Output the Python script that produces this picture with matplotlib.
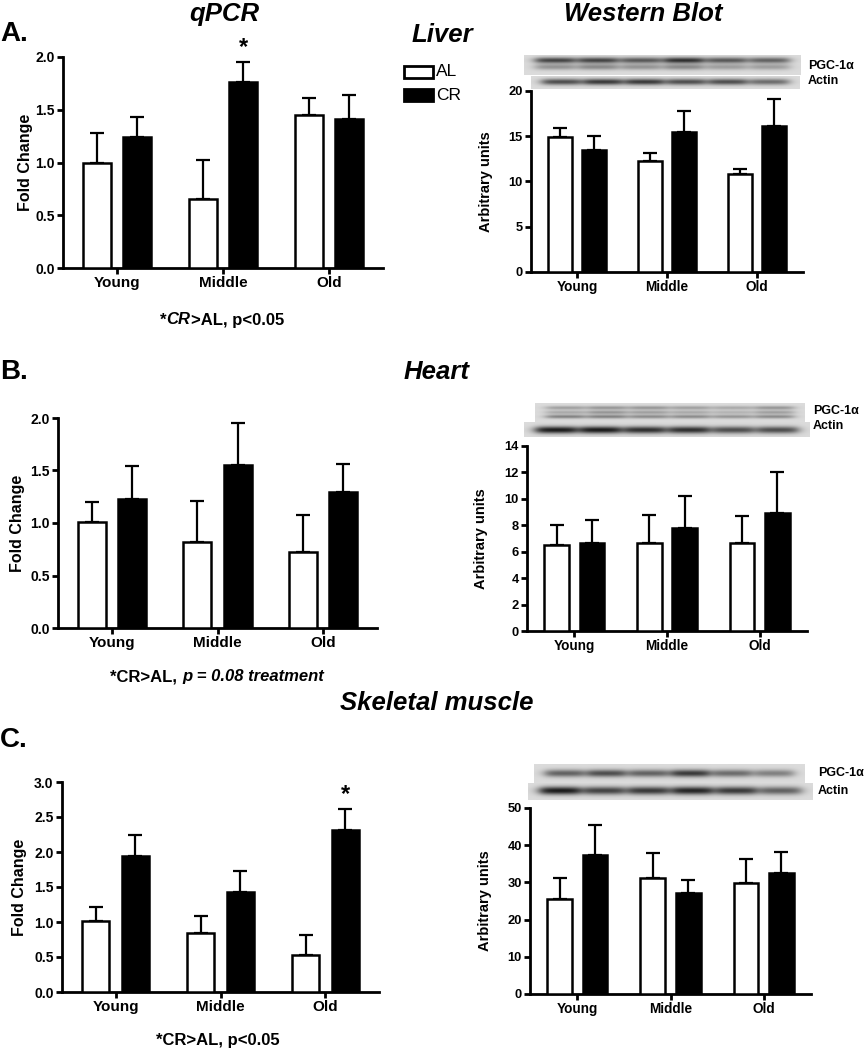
"""
PGC-1α 表达：qPCR 与 Western Blot（肝脏 / 心脏 / 骨骼肌），AL vs CR
"""

import numpy as np
import matplotlib
matplotlib.use('Agg')
import matplotlib.pyplot as plt
from matplotlib.patches import Rectangle

W, H = 867, 1050
plt.rcParams['font.family'] = ['Liberation Sans', 'DejaVu Sans']
plt.rcParams['font.weight'] = 'bold'
plt.rcParams['axes.labelweight'] = 'bold'

# ============================================================
# 数据（均值与 SEM）
# ============================================================

groups = ['Young', 'Middle', 'Old']

liver_qpcr_al      = [1.00, 0.65, 1.45]
liver_qpcr_al_sem  = [0.28, 0.37, 0.16]
liver_qpcr_cr      = [1.24, 1.76, 1.41]
liver_qpcr_cr_sem  = [0.19, 0.19, 0.23]

liver_wb_al        = [14.9, 12.25, 10.85]
liver_wb_al_sem    = [1.0, 0.95, 0.5]
liver_wb_cr        = [13.5, 15.45, 16.15]
liver_wb_cr_sem    = [1.5, 2.3, 3.0]

heart_qpcr_al      = [1.01, 0.82, 0.72]
heart_qpcr_al_sem  = [0.19, 0.39, 0.36]
heart_qpcr_cr      = [1.23, 1.555, 1.30]
heart_qpcr_cr_sem  = [0.31, 0.395, 0.265]

heart_wb_al        = [6.5, 6.67, 6.69]
heart_wb_al_sem    = [1.53, 2.12, 2.02]
heart_wb_cr        = [6.64, 7.8, 8.96]
heart_wb_cr_sem    = [1.74, 2.4, 3.1]

muscle_qpcr_al     = [1.01, 0.845, 0.527]
muscle_qpcr_al_sem = [0.21, 0.245, 0.29]
muscle_qpcr_cr     = [1.94, 1.433, 2.31]
muscle_qpcr_cr_sem = [0.30, 0.30, 0.305]

muscle_wb_al       = [25.6, 31.1, 29.9]
muscle_wb_al_sem   = [5.5, 6.8, 6.35]
muscle_wb_cr       = [37.5, 27.2, 32.6]
muscle_wb_cr_sem   = [7.9, 3.4, 5.6]

# 显著性标记（组索引）
liver_sig  = [1]
muscle_sig = [2]

# 条带灰度强度（6 个泳道）
liver_pgc_upper  = [0.75, 0.75, 0.65, 0.85, 0.65, 0.60]
liver_pgc_lower  = [0.35, 0.40, 0.35, 0.40, 0.30, 0.30]
liver_actin      = [0.70, 0.80, 0.80, 0.70, 0.70, 0.55]
heart_pgc_1      = [0.30, 0.35, 0.35, 0.30, 0.25, 0.35]
heart_pgc_2      = [0.25, 0.35, 0.30, 0.25, 0.20, 0.30]
heart_pgc_3      = [0.45, 0.45, 0.40, 0.40, 0.35, 0.40]
heart_actin      = [0.95, 0.95, 0.85, 0.85, 0.70, 0.70]
muscle_pgc       = [0.60, 0.70, 0.60, 0.80, 0.55, 0.45]
muscle_actin     = [0.95, 0.75, 0.80, 0.90, 0.80, 0.60]

# ============================================================
# 工具函数
# ============================================================

fig = plt.figure(figsize=(W / 100, H / 100), dpi=100)


def add_axes_px(x0, y0, x1, y1):
    return fig.add_axes([x0 / W, 1 - y1 / H, (x1 - x0) / W, (y1 - y0) / H])


def bar_panel(box, al, al_sem, cr, cr_sem, ymax, ystep, fmt, ylabel,
              label_x, tick_fs, cat_fs, lab_fs, sig=()):
    ax = add_axes_px(*box)
    x = np.arange(len(groups))
    off, w = 0.19, 0.265
    ax.bar(x - off, al, w, color='white', edgecolor='black', linewidth=1.8, zorder=3)
    ax.bar(x + off, cr, w, color='black', edgecolor='black', linewidth=1.8, zorder=3)
    ax.errorbar(x - off, al, yerr=[np.zeros(3), al_sem], fmt='none',
                ecolor='black', elinewidth=1.6, capsize=5, capthick=1.6, zorder=2)
    ax.errorbar(x + off, cr, yerr=[np.zeros(3), cr_sem], fmt='none',
                ecolor='black', elinewidth=1.6, capsize=5, capthick=1.6, zorder=2)
    for i in sig:
        ax.annotate('*', (x[i] + off, cr[i] + cr_sem[i]), xytext=(0, 2),
                    textcoords='offset points', ha='center', va='bottom',
                    fontsize=17, fontweight='bold')
    ax.set_xlim(-0.51, 2.51)
    ax.set_ylim(0, ymax)
    ticks = np.arange(0, ymax + ystep / 2, ystep)
    ax.set_yticks(ticks)
    ax.set_yticklabels([fmt.format(t) for t in ticks], fontsize=tick_fs,
                       fontweight='bold')
    ax.set_xticks(x)
    ax.set_xticklabels(groups, fontsize=cat_fs, fontweight='bold')
    for s in ['top', 'right']:
        ax.spines[s].set_visible(False)
    for s in ['left', 'bottom']:
        ax.spines[s].set_linewidth(2.0)
    ax.tick_params(axis='both', width=2.0, length=4, pad=2)
    ax.set_ylabel(ylabel, fontsize=lab_fs, fontweight='bold')
    ax.yaxis.set_label_coords(label_x, 0.5)
    return ax


def draw_blot(box, centers, bands, sigma):
    ax = add_axes_px(*box)
    h = box[3] - box[1]
    wd = box[2] - box[0]
    rows = np.linspace(0, 1, h * 4)[:, None]
    cols = np.linspace(0, 1, wd * 4)[None, :]
    img = np.full((rows.size, cols.size), 0.86)
    n = len(bands[0])
    for yc, inten in zip(centers, bands):
        vprof = np.exp(-0.5 * ((rows - yc) / sigma) ** 2)
        for k in range(n):
            lc = 0.035 + (k + 0.5) * 0.93 / n
            hw = 0.93 / n * 0.46
            hprof = 1 / (1 + np.exp((np.abs(cols - lc) - hw) / 0.012))
            img -= 0.8 * inten[k] * vprof * hprof
    ax.imshow(np.clip(img, 0, 1), cmap='gray', vmin=0, vmax=1, aspect='auto',
              interpolation='bilinear')
    ax.axis('off')
    return ax


def rich_text(xc, yc, pieces, size=12):
    r = fig.canvas.get_renderer()
    objs = [fig.text(0, 1 - yc / H, s, fontsize=size, fontweight='bold',
                     fontstyle=st, va='center', ha='left') for s, st in pieces]
    widths = [t.get_window_extent(r).width for t in objs]
    x = xc - sum(widths) / 2
    for t, w in zip(objs, widths):
        t.set_x(x / W)
        x += w


def ftext(x, y, s, **kw):
    fig.text(x / W, 1 - y / H, s, **kw)


# ============================================================
# 柱状图
# ============================================================

bar_panel((63, 57, 383, 268), liver_qpcr_al, liver_qpcr_al_sem, liver_qpcr_cr,
          liver_qpcr_cr_sem, 2.0, 0.5, '{:.1f}', 'Fold Change', -0.094, 10, 11, 11.5,
          sig=liver_sig)
bar_panel((531, 91, 803, 272), liver_wb_al, liver_wb_al_sem, liver_wb_cr,
          liver_wb_cr_sem, 20, 5, '{:.0f}', 'Arbitrary units', -0.14, 9.3, 9.8, 10.5)
bar_panel((58, 418, 377, 628), heart_qpcr_al, heart_qpcr_al_sem, heart_qpcr_cr,
          heart_qpcr_cr_sem, 2.0, 0.5, '{:.1f}', 'Fold Change', -0.103, 10, 11, 11.5)
bar_panel((527, 446, 807, 631), heart_wb_al, heart_wb_al_sem, heart_wb_cr,
          heart_wb_cr_sem, 14, 2, '{:.0f}', 'Arbitrary units', -0.139, 9.3, 9.8, 10.5)
bar_panel((62, 782, 379, 992), muscle_qpcr_al, muscle_qpcr_al_sem, muscle_qpcr_cr,
          muscle_qpcr_cr_sem, 3.0, 0.5, '{:.1f}', 'Fold Change', -0.11, 10, 11, 11.5,
          sig=muscle_sig)
bar_panel((530, 808, 811, 994), muscle_wb_al, muscle_wb_al_sem, muscle_wb_cr,
          muscle_wb_cr_sem, 50, 10, '{:.0f}', 'Arbitrary units', -0.135, 9.3, 9.8, 10.5)

# ============================================================
# Western blot 条带
# ============================================================

draw_blot((524, 55, 801, 75), [0.3, 0.62], [liver_pgc_upper, liver_pgc_lower], 0.1)
draw_blot((531, 76, 800, 89), [0.45], [liver_actin], 0.17)
draw_blot((535, 403, 805, 422), [0.25, 0.49, 0.72],
          [heart_pgc_1, heart_pgc_2, heart_pgc_3], 0.07)
draw_blot((524, 422, 810, 437), [0.53], [heart_actin], 0.17)
draw_blot((534, 764, 805, 783), [0.49], [muscle_pgc], 0.14)
draw_blot((528, 783, 813, 800), [0.45], [muscle_actin], 0.17)

for x, y1, y2 in [(808, 66, 81), (813, 411, 426), (818, 773, 791)]:
    ftext(x, y1, 'PGC-1α', fontsize=9, fontweight='bold', va='center')
    ftext(x, y2, 'Actin', fontsize=9, fontweight='bold', va='center')

# ============================================================
# 标题、图例与注释
# ============================================================

title_kw = dict(fontsize=18.5, fontweight='bold', fontstyle='italic',
                ha='center', va='center')
ftext(224, 14, 'qPCR', **title_kw)
ftext(643, 14, 'Western Blot', **title_kw)
ftext(442, 35, 'Liver', **title_kw)
ftext(437, 372, 'Heart', **title_kw)
ftext(437, 703, 'Skeletal muscle', **title_kw)

panel_kw = dict(fontsize=20, fontweight='bold', ha='left', va='center')
ftext(0, 34, 'A.', **panel_kw)
ftext(0, 372, 'B.', **panel_kw)
ftext(0, 740, 'C.', **panel_kw)

# 图例
for (y0, fc, lab) in [(66, 'white', 'AL'), (89, 'black', 'CR')]:
    fig.add_artist(Rectangle((404 / W, 1 - (y0 + 12) / H), 29 / W, 12 / H,
                             transform=fig.transFigure, facecolor=fc,
                             edgecolor='black', linewidth=2.0))
    ftext(436, y0 + 6, lab, fontsize=12.5, fontweight='normal', va='center')

rich_text(222, 320, [('*', 'normal'), ('CR', 'italic'), ('>AL, p<0.05', 'normal')])
rich_text(217, 677, [('*CR>AL, ', 'normal'), ('p = 0.08 treatment', 'italic')])
rich_text(218, 1040, [('*CR>AL, p<0.05', 'normal')])

plt.savefig('out.png', dpi=100)
